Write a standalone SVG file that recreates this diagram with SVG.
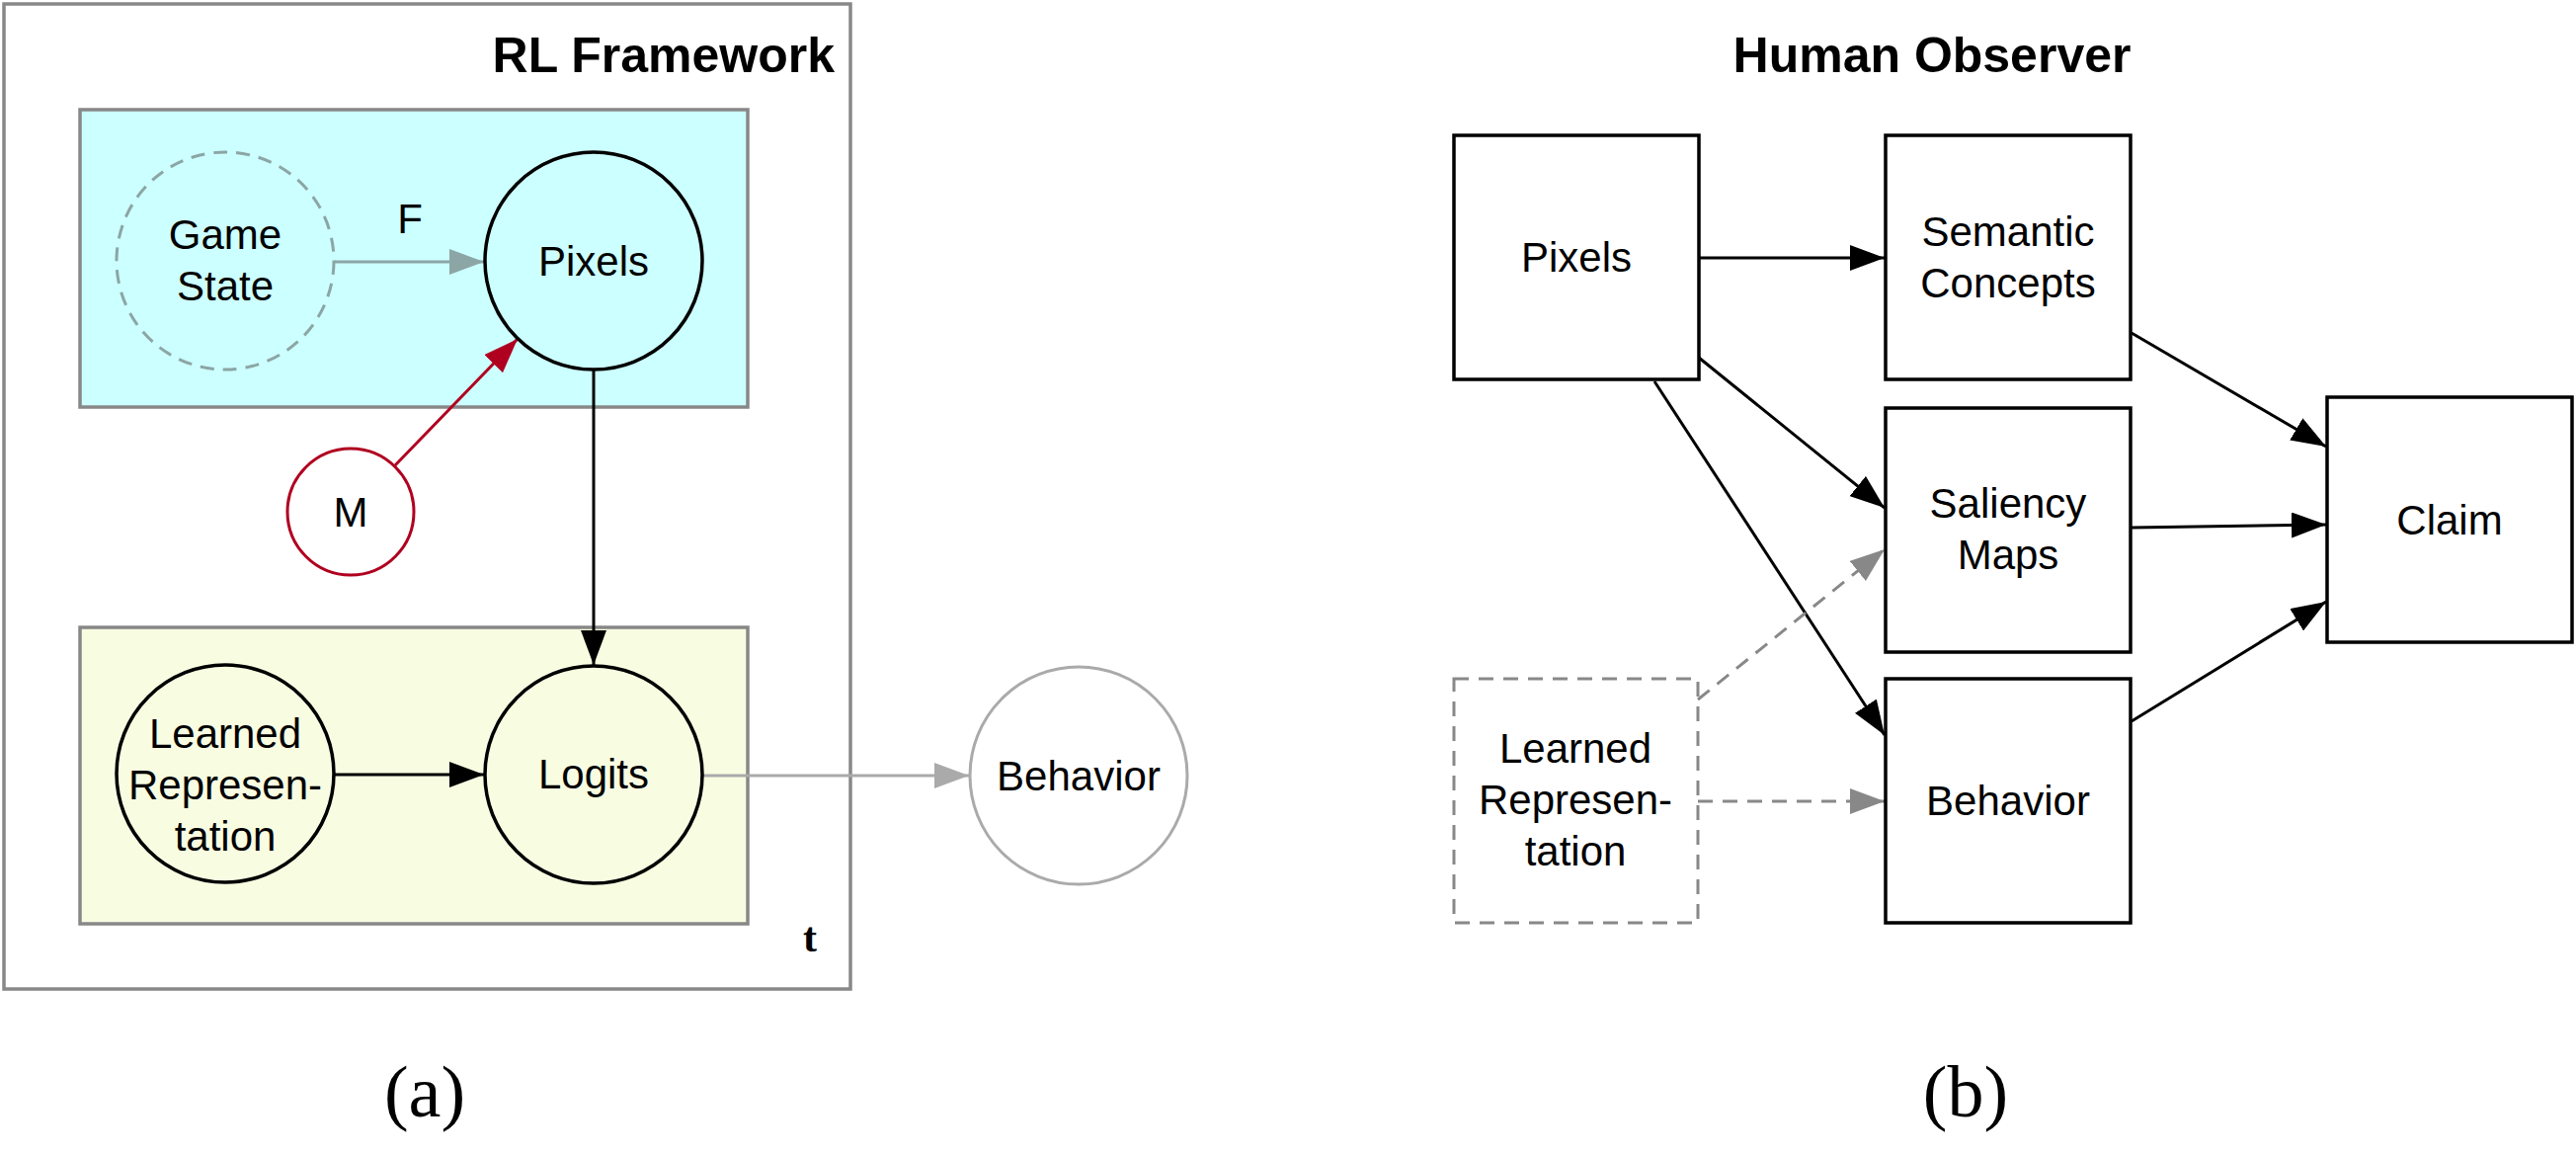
<svg xmlns="http://www.w3.org/2000/svg" width="2608" height="1168" viewBox="0 0 2608 1168">
<defs>
<style>
.t{font-family:"Liberation Sans",Arial,Helvetica,sans-serif;font-size:42px;fill:#000;text-anchor:middle}
.title{font-family:"Liberation Sans",Arial,Helvetica,sans-serif;font-size:50px;font-weight:bold;fill:#000}
.serif{font-family:"Liberation Serif","Times New Roman",serif;fill:#000;text-anchor:middle}
.plate{stroke:#888;stroke-width:3.5}
.node{fill:none;stroke:#000;stroke-width:3.5}
.box{fill:#fff;stroke:#000;stroke-width:3.5}
.e{fill:none;stroke-width:3}
</style>
<marker id="ak" markerUnits="userSpaceOnUse" markerWidth="36" markerHeight="26" refX="35" refY="13" orient="auto"><path d="M0,0 L35,13 L0,26 Z" fill="#000"/></marker>
<marker id="ag" markerUnits="userSpaceOnUse" markerWidth="36" markerHeight="26" refX="35" refY="13" orient="auto"><path d="M0,0 L35,13 L0,26 Z" fill="#8ca5a5"/></marker>
<marker id="ar" markerUnits="userSpaceOnUse" markerWidth="36" markerHeight="26" refX="35" refY="13" orient="auto"><path d="M0,0 L35,13 L0,26 Z" fill="#b00020"/></marker>
<marker id="aa" markerUnits="userSpaceOnUse" markerWidth="36" markerHeight="26" refX="35" refY="13" orient="auto"><path d="M0,0 L35,13 L0,26 Z" fill="#aaa"/></marker>
<marker id="ad" markerUnits="userSpaceOnUse" markerWidth="36" markerHeight="26" refX="35" refY="13" orient="auto"><path d="M0,0 L35,13 L0,26 Z" fill="#888"/></marker>
</defs>
<rect width="2608" height="1168" fill="#fff"/>

<g id="plate-rl">
<rect class="plate" x="4" y="4" width="857" height="997" fill="none"/>
<text class="title" x="845" y="73" text-anchor="end">RL Framework</text>
<text class="serif" x="820" y="963" font-size="42" font-weight="bold">t</text>
</g>
<g id="plate-env"><rect class="plate" x="81" y="111" width="676" height="301" fill="#ccffff"/></g>
<g id="plate-agent"><rect class="plate" x="81" y="635" width="676" height="300" fill="#f8fde2"/></g>

<g id="connectors">
<line class="e" x1="339" y1="265" x2="490" y2="265" stroke="#8ca5a5" marker-end="url(#ag)"/>
<text class="t" x="415" y="236">F</text>
<line class="e" x1="400" y1="471" x2="524" y2="343" stroke="#b00020" marker-end="url(#ar)"/>
<line class="e" x1="601" y1="375" x2="601" y2="673" stroke="#000" marker-end="url(#ak)"/>
<line class="e" x1="339" y1="784" x2="490" y2="784" stroke="#000" marker-end="url(#ak)"/>
<line class="e" x1="712" y1="785" x2="981" y2="785" stroke="#aaa" marker-end="url(#aa)"/>

<line class="e" x1="1720" y1="261" x2="1908" y2="261" stroke="#000" marker-end="url(#ak)"/>
<line class="e" x1="1720" y1="362" x2="1908" y2="514" stroke="#000" marker-end="url(#ak)"/>
<line class="e" x1="1675" y1="386" x2="1908" y2="744" stroke="#000" marker-end="url(#ak)"/>
<line class="e" x1="1719" y1="708" x2="1908" y2="556" stroke="#888" stroke-dasharray="15 10" marker-end="url(#ad)"/>
<line class="e" x1="1719" y1="811" x2="1908" y2="811" stroke="#888" stroke-dasharray="15 10" marker-end="url(#ad)"/>
<line class="e" x1="2158" y1="337" x2="2355" y2="452" stroke="#000" marker-end="url(#ak)"/>
<line class="e" x1="2158" y1="534" x2="2355" y2="531" stroke="#000" marker-end="url(#ak)"/>
<line class="e" x1="2158" y1="730" x2="2355" y2="609" stroke="#000" marker-end="url(#ak)"/>
</g>

<g id="node-gamestate">
<circle cx="228" cy="264" r="110" fill="none" stroke="#8ca5a5" stroke-width="3" stroke-dasharray="14 9"/>
<text class="t" x="228" y="252">Game</text>
<text class="t" x="228" y="304">State</text>
</g>
<g id="node-pixels">
<circle class="node" cx="601" cy="264" r="110"/>
<text class="t" x="601" y="279">Pixels</text>
</g>
<g id="node-m">
<circle cx="355" cy="518" r="64" fill="none" stroke="#b00020" stroke-width="3"/>
<text class="t" x="355" y="533">M</text>
</g>
<g id="node-learned">
<circle class="node" cx="228" cy="783" r="110"/>
<text class="t" x="228" y="757">Learned</text>
<text class="t" x="228" y="809">Represen-</text>
<text class="t" x="228" y="861">tation</text>
</g>
<g id="node-logits">
<circle class="node" cx="601" cy="784" r="110"/>
<text class="t" x="601" y="798">Logits</text>
</g>
<g id="node-behavior-a">
<circle cx="1092" cy="785" r="110" fill="#fff" stroke="#aaa" stroke-width="3"/>
<text class="t" x="1092" y="800">Behavior</text>
</g>

<g id="title-ho"><text class="title" x="1956" y="73" text-anchor="middle">Human Observer</text></g>
<g id="node-pixels-b">
<rect class="box" x="1472" y="137" width="248" height="247"/>
<text class="t" x="1596" y="275">Pixels</text>
</g>
<g id="node-semantic">
<rect class="box" x="1909" y="137" width="248" height="247"/>
<text class="t" x="2033" y="249">Semantic</text>
<text class="t" x="2033" y="301">Concepts</text>
</g>
<g id="node-saliency">
<rect class="box" x="1909" y="413" width="248" height="247"/>
<text class="t" x="2033" y="524">Saliency</text>
<text class="t" x="2033" y="576">Maps</text>
</g>
<g id="node-behavior-b">
<rect class="box" x="1909" y="687" width="248" height="247"/>
<text class="t" x="2033" y="825">Behavior</text>
</g>
<g id="node-learned-b">
<rect x="1472" y="687" width="247" height="247" fill="none" stroke="#888" stroke-width="3" stroke-dasharray="15 10"/>
<text class="t" x="1595" y="772">Learned</text>
<text class="t" x="1595" y="824">Represen-</text>
<text class="t" x="1595" y="876">tation</text>
</g>
<g id="node-claim">
<rect class="box" x="2356" y="402" width="248" height="248"/>
<text class="t" x="2480" y="541">Claim</text>
</g>

<text class="serif" x="430" y="1130" font-size="74">(a)</text>
<text class="serif" x="1990" y="1130" font-size="74">(b)</text>
</svg>
